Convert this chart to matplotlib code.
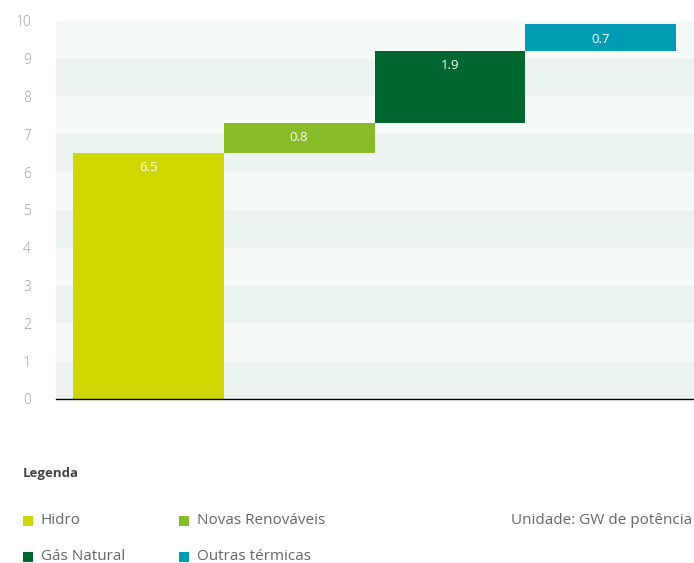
import matplotlib
matplotlib.use("Agg")
import matplotlib.pyplot as plt
from matplotlib.patches import Rectangle

plt.rcParams['font.family'] = ['Open Sans', 'DejaVu Sans']

categories = ["Hidro", "Novas Renováveis", "Gás Natural", "Outras térmicas"]
values = [6.5, 0.8, 1.9, 0.7]
colors = ["#cfd600", "#86bc25", "#00682f", "#009bb4"]
yticks = list(range(0, 11))

fig = plt.figure(figsize=(6.94, 5.63), dpi=100)
ax = fig.add_axes([56 / 694, (563 - 399) / 563, 1 - 56 / 694, (399 - 20.7) / 563])

# alternating horizontal bands
for i in range(10):
    ax.axhspan(i, i + 1, color="#ecf4f1" if i % 2 == 0 else "#f5f9f8", lw=0, zorder=0)

# waterfall bars
bottoms = []
acc = 0.0
for v in values:
    bottoms.append(acc)
    acc += v
x = list(range(len(values)))
ax.bar(x, values, bottom=bottoms, width=1.0, color=colors, zorder=2, linewidth=0)

for xi, v, b in zip(x, values, bottoms):
    ax.annotate(f"{v:.1f}", xy=(xi, b + v), xytext=(0, -10.5), textcoords="offset points",
                ha="center", va="center", color="white", fontsize=9.5, zorder=3)

ax.set_xlim(-0.5 - 17 / 151, len(values) - 0.5 + 18 / 151)
ax.set_ylim(0, 10)
ax.set_yticks(yticks)
ax.set_yticklabels([str(t) for t in yticks], fontweight="light")
ax.tick_params(axis="y", length=0, pad=18, labelcolor="#a0a0a0", labelsize=10)
ax.set_xticks([])
for s in ["top", "right", "left"]:
    ax.spines[s].set_visible(False)
ax.spines["bottom"].set_color("black")
ax.spines["bottom"].set_linewidth(1.0)
ax.spines["bottom"].set_zorder(4)

# legend block
W, H = 694, 563
fig.text(23 / W, 1 - 473 / H, "Legenda", fontsize=9.5, fontweight="bold", color="#444444",
         ha="left", va="center")
positions = [(23, 521), (179, 521), (23, 557), (179, 557)]
for (px, py), lab, c in zip(positions, categories, colors):
    fig.patches.append(Rectangle((px / W, 1 - (py + 5) / H), 10 / W, 10 / H,
                                 transform=fig.transFigure, color=c, lw=0))
    fig.text((px + 18) / W, 1 - py / H, lab, fontsize=11, color="#666666",
             ha="left", va="center")
fig.text(692 / W, 1 - 521 / H, "Unidade: GW de potência", fontsize=11, color="#666666",
         ha="right", va="center")

fig.savefig("out.png", dpi=100)
